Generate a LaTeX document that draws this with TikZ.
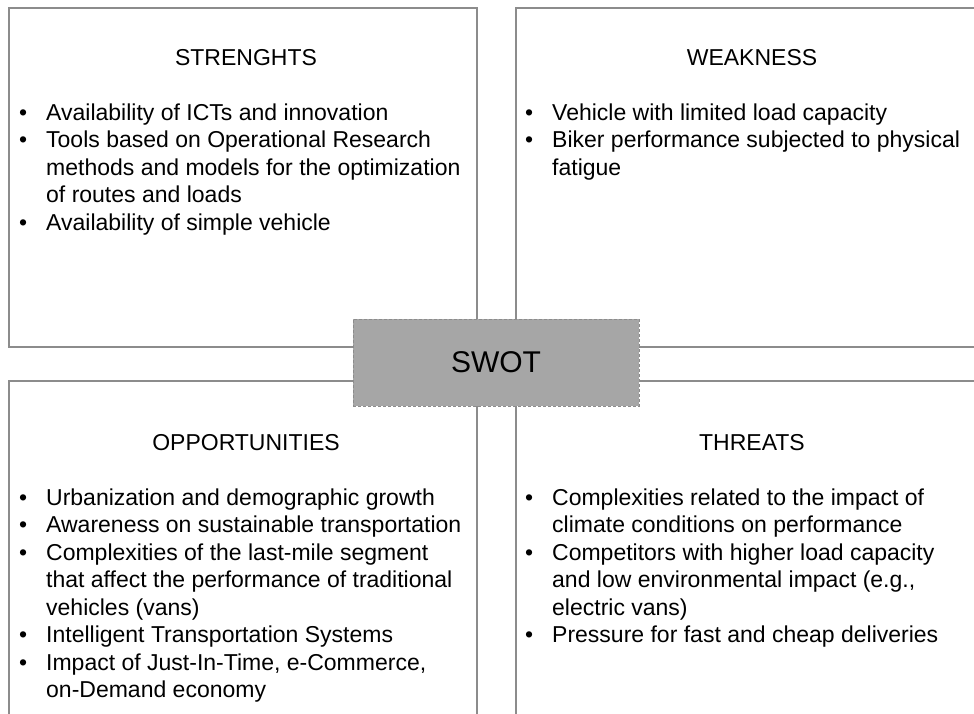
\documentclass[tikz,border=0pt]{standalone}
\usepackage{fontspec}
\setmainfont{Liberation Sans}
\usetikzlibrary{positioning}
\definecolor{framegray}{HTML}{8C8C8C}
\definecolor{swotgray}{HTML}{A6A6A6}
\tikzset{
  frame/.style={draw=framegray, line width=1.3pt},
  head/.style={anchor=base, inner sep=0pt, font=\fontsize{23}{27.5}\selectfont},
  list/.style={anchor=base west, inner sep=0pt, font=\fontsize{23}{27.5}\selectfont},
  swotbox/.style={draw=framegray, dash pattern=on 3pt off 2pt, line width=1pt, fill=swotgray,
    minimum width=286pt, minimum height=87pt, font=\fontsize{30}{36}\selectfont}
}
\newenvironment{bullets}{\begin{tabular}[t]{@{}p{27pt}@{}l@{}}}{\end{tabular}}
\newcommand{\pt}{\textbullet &}
\begin{document}
\begin{tikzpicture}[x=1pt,y=-1pt]
\useasboundingbox (0,0) rectangle (974,713);
\clip (0,0) rectangle (974,713);
\coordinate (topleft) at (9,8);
\coordinate (midleft) at (477,347);
\coordinate (topright) at (516,8);
\coordinate (lowleft) at (9,381);
\coordinate (lowright) at (516,381);

% four quadrants, the right and lower ones run off the page
\draw [frame] (topleft) rectangle (midleft);
\draw [frame] (990,8) -- (topright) -- (516,347) -- (990,347);
\draw [frame] (9,730) -- (lowleft) -- (477,381) -- (477,730);
\draw [frame] (516,730) -- (lowright) -- (990,381);

\node [head](strengths) at (246,65) {STRENGHTS};
\node [head](weakness) at (752,65) {WEAKNESS};
\node [head](opportunities) at (246,450) {OPPORTUNITIES};
\node [head](threats) at (752,450) {THREATS};

\node [list](strengthslist) at (19,120) {\begin{bullets}
\pt Availability of ICTs and innovation\\
\pt Tools based on Operational Research\\
 & methods and models for the optimization\\
 & of routes and loads\\
\pt Availability of simple vehicle
\end{bullets}};
\node [list](weaknesslist) at (525,120) {\begin{bullets}
\pt Vehicle with limited load capacity\\
\pt Biker performance subjected to physical\\
 & fatigue
\end{bullets}};
\node [list](opportunitieslist) at (19,505) {\begin{bullets}
\pt Urbanization and demographic growth\\
\pt Awareness on sustainable transportation\\
\pt Complexities of the last-mile segment\\
 & that affect the performance of traditional\\
 & vehicles (vans)\\
\pt Intelligent Transportation Systems\\
\pt Impact of Just-In-Time, e-Commerce,\\
 & on-Demand economy
\end{bullets}};
\node [list](threatslist) at (525,505) {\begin{bullets}
\pt Complexities related to the impact of\\
 & climate conditions on performance\\
\pt Competitors with higher load capacity\\
 & and low environmental impact (e.g.,\\
 & electric vans)\\
\pt Pressure for fast and cheap deliveries
\end{bullets}};

\node [swotbox](swot) at (496,362.5) {SWOT};
\end{tikzpicture}
\end{document}
